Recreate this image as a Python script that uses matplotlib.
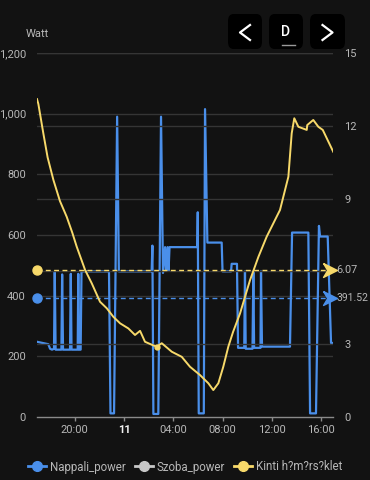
import matplotlib
matplotlib.use("Agg")
import matplotlib.pyplot as plt
from matplotlib.lines import Line2D
from matplotlib.patches import FancyBboxPatch

plt.rcParams['font.family'] = ['Roboto', 'DejaVu Sans']

# ---- data (hours relative to midnight of the 11th) ----
nappali_hours = [-7.06, -6.14, -6.0, -5.84, -5.68, -5.62, -5.55, -5.08, -5.02, -4.95,
                 -4.38, -4.32, -4.26, -3.76, -3.71, -3.65, -3.52, -3.45, -1.22, -1.10,
                 -0.81, -0.56, -0.42, 2.24, 2.30, 2.38, 2.78, 3.00, 3.16, 3.33,
                 3.41, 3.53, 3.61, 3.69, 5.94, 5.98, 6.06, 6.47, 6.57, 6.76,
                 7.92, 7.99, 8.68, 8.73, 9.16, 9.25, 9.75, 9.81, 9.87, 10.42,
                 10.49, 10.55, 11.07, 11.11, 11.19, 13.46, 13.63, 14.95, 15.09, 15.57,
                 15.81, 15.90, 16.52, 16.79, 16.95]
nappali_watts = [248, 240, 225, 222, 225, 480, 222, 222, 470, 222,
                 222, 472, 222, 222, 472, 222, 222, 480, 480, 12,
                 12, 990, 480, 480, 565, 10, 10, 990, 475, 560,
                 482, 560, 482, 560, 560, 675, 12, 12, 1015, 575,
                 575, 480, 480, 505, 505, 228, 228, 480, 225, 225,
                 480, 228, 228, 480, 232, 232, 608, 608, 12, 12,
                 630, 595, 595, 244, 244]

szoba_hours = []
szoba_watts = []

kinti_hours = [-7.06, -6.95, -6.55, -6.2, -5.73, -5.2, -4.65, -4.2, -3.84, -3.16,
               -2.62, -1.95, -1.40, -0.87, -0.32, 0.35, 0.89, 1.30, 1.70, 2.38,
               2.65, 3.06, 3.87, 4.68, 5.35, 6.16, 6.84, 7.24, 7.65, 8.05,
               8.46, 8.84, 9.41, 10.22, 10.9, 11.57, 12.65, 13.33, 13.60, 13.81,
               14.14, 14.82, 14.86, 15.35, 15.76, 16.12, 16.45, 16.97]
kinti_temps = [13.1, 12.9, 11.7, 10.7, 9.77, 8.9, 8.25, 7.6, 7.02, 6.06,
               5.51, 4.75, 4.48, 4.13, 3.86, 3.65, 3.38, 3.55, 3.10, 2.95,
               2.90, 3.04, 2.69, 2.48, 2.07, 1.73, 1.39, 1.11, 1.39, 2.07,
               2.90, 3.50, 4.27, 5.64, 6.6, 7.43, 8.53, 9.90, 11.69, 12.31,
               11.96, 11.83, 12.03, 12.24, 11.96, 11.83, 11.48, 10.93]

nappali_ref = 391.52
kinti_ref = 6.07

x_ticks = [-4, 0, 4, 8, 12, 16]
x_labels = ["20:00", "11", "04:00", "08:00", "12:00", "16:00"]
left_ticks = [0, 200, 400, 600, 800, 1000, 1200]
left_labels = ["0", "200", "400", "600", "800", "1,000", "1,200"]
right_ticks = [0, 3, 6, 9, 12, 15]
right_labels = ["0", "3", "", "9", "12", "15"]

legend_names = ["Nappali_power", "Szoba_power", "Kinti h?m?rs?klet"]

# ---- style ----
BG = "#121212"
BLUE = "#4a8fea"
GRAY = "#c8c8c8"
YELLOW = "#f7d96a"
GRID = "#353535"
TXT = "#b8b8b8"

W, H = 370, 480
fig = plt.figure(figsize=(3.7, 4.8), dpi=100, facecolor=BG)

def fx(x):
    return x / W

def fy(y):
    return 1 - y / H

ax = fig.add_axes([fx(37), fy(417), fx(333) - fx(37), fy(53) - fy(417)])
ax.set_facecolor(BG)
ax2 = ax.twinx()

xmin, xmax = -7.06, 16.95
ax.set_xlim(xmin, xmax)
ax.set_ylim(0, 1200)
ax2.set_ylim(0, 15)

# grid lines
for v in left_ticks[1:]:
    ax.axhline(v, color=GRID, lw=1, zorder=0)
for v in right_ticks[1:]:
    ax2.axhline(v, color=GRID, lw=1, zorder=0)

ax.plot(nappali_hours, nappali_watts, color=BLUE, lw=1.6, zorder=3, solid_joinstyle='round')
ax.plot(szoba_hours, szoba_watts, color=GRAY, lw=1.5)
ax2.plot(kinti_hours, kinti_temps, color=YELLOW, lw=1.4, zorder=4, solid_joinstyle='round')

# reference (dashed) lines with markers
ax.plot([xmin, xmax], [nappali_ref, nappali_ref], color=BLUE, lw=1, ls=(0, (3.5, 2.5)), zorder=5)
ax2.plot([xmin, xmax], [kinti_ref, kinti_ref], color=YELLOW, lw=1, ls=(0, (3.5, 2.5)), zorder=5)
ax.plot([xmin], [nappali_ref], 'o', color=BLUE, ms=6.5, clip_on=False, zorder=6)
ax2.plot([xmin], [kinti_ref], 'o', color=YELLOW, ms=6.5, clip_on=False, zorder=6)
arrow = [(-1, 1), (1, 0), (-1, -1), (-0.4, 0), (-1, 1)]
ax.plot([xmax - 0.25], [nappali_ref], marker=arrow, color=BLUE, ms=10, clip_on=False, zorder=6)
ax2.plot([xmax - 0.25], [kinti_ref], marker=arrow, color=YELLOW, ms=10, clip_on=False, zorder=6)
ax2.text(xmax + 0.3, kinti_ref, "6.07", color=TXT, fontsize=7.8, va='center', ha='left', clip_on=False)
ax.text(xmax + 0.3, nappali_ref, f"{nappali_ref:.2f}", color=TXT, fontsize=7.5, va='center', ha='left', clip_on=False)

ax2.plot([2.65], [2.9], 'o', color=YELLOW, ms=3.5, zorder=5)

# axes / ticks
for a in (ax, ax2):
    for s in ("top", "left", "right"):
        a.spines[s].set_visible(False)
ax2.spines["bottom"].set_visible(False)
ax.spines["bottom"].set_color("#8a8a8a")
ax.spines["bottom"].set_linewidth(1)

ax.set_xticks(x_ticks)
ax.set_xticklabels(x_labels)
ax.tick_params(axis='x', colors="#8a8a8a", length=3, width=1, labelsize=8, labelcolor=TXT, pad=3)
for lab in ax.get_xticklabels():
    if lab.get_text() == "11":
        lab.set_color("#f0f0f0")
        lab.set_fontweight("bold")

ax.set_yticks(left_ticks)
ax.set_yticklabels(left_labels)
ax.tick_params(axis='y', length=0, labelsize=8, labelcolor=TXT, pad=8)
ax2.set_yticks(right_ticks)
ax2.set_yticklabels(right_labels)
ax2.tick_params(axis='y', length=0, labelsize=8, labelcolor=TXT, pad=8)

fig.text(fx(37), fy(34), "Watt", color=TXT, fontsize=8, ha='center', va='center')

# top-right buttons
for x0, x1 in [(228, 262), (269, 303), (310, 345)]:
    fig.patches.append(FancyBboxPatch((fx(x0), fy(49)), fx(x1) - fx(x0), fy(14) - fy(49),
                                      boxstyle="round,pad=0,rounding_size=0.015",
                                      transform=fig.transFigure, facecolor="#000000",
                                      edgecolor="none", zorder=1))
fig.lines.append(Line2D([fx(250), fx(240), fx(250)], [fy(25), fy(32.5), fy(40)],
                        transform=fig.transFigure, color="white", lw=1.6))
fig.lines.append(Line2D([fx(322.5), fx(332.5), fx(322.5)], [fy(25), fy(32.5), fy(40)],
                        transform=fig.transFigure, color="white", lw=1.6))
fig.text(fx(286), fy(31.5), "D", color="white", fontsize=10, fontweight='medium', ha='center', va='center')
fig.lines.append(Line2D([fx(281.5), fx(295)], [fy(45), fy(45)], transform=fig.transFigure,
                        color="#9a9a9a", lw=1))

# legend
handles = [Line2D([], [], color=c, lw=2, marker='o', ms=7) for c in (BLUE, GRAY, YELLOW)]
leg = fig.legend(handles, legend_names, loc='center', bbox_to_anchor=(0.5, fy(467)), ncol=3,
                 frameon=False, fontsize=8.3, labelcolor=TXT, handlelength=1.6,
                 handletextpad=0.3, columnspacing=0.8)

fig.savefig("out.png", dpi=100, facecolor=BG)
